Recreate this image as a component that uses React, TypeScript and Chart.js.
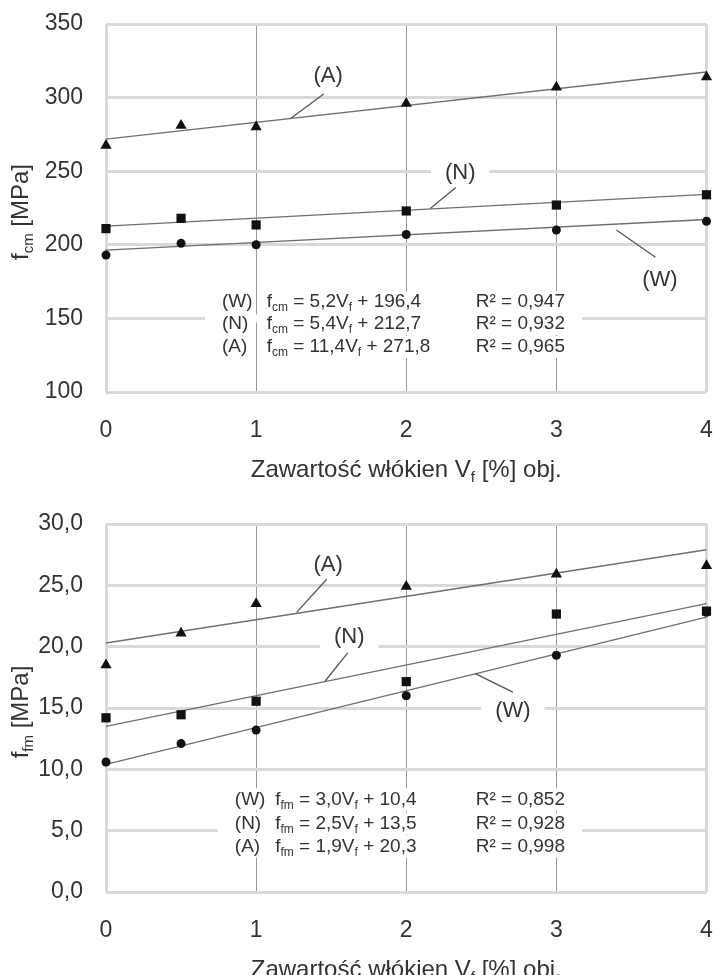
import React, { useEffect, useRef } from 'react';
import { Chart, registerables } from 'chart.js';

Chart.register(...registerables);

// ---------- data ----------
const vfValues = [0, 0.5, 1, 2, 3, 4];
const fitX = [0, 4];
const xTicks = [0, 1, 2, 3, 4];

// top panel: f_cm [MPa]
const fcmW = [193, 201, 200, 207, 210, 216];
const fcmN = [211, 218, 213.5, 223, 227, 234];
const fcmA = [267.5, 281, 280, 296, 307, 314];
const fcmFitW = [196.4, 217.2];
const fcmFitN = [212.7, 234.3];
const fcmFitA = [271.8, 317.4];
const fcmSlopes = ['5,2', '5,4', '11,4'];
const fcmIntercepts = ['196,4', '212,7', '271,8'];
const fcmR2 = ['0,947', '0,932', '0,965'];

// bottom panel: f_fm [MPa]
const ffmW = [10.6, 12.1, 13.2, 16.0, 19.3, 22.8];
const ffmN = [14.2, 14.45, 15.55, 17.15, 22.66, 22.9];
const ffmA = [18.5, 21.1, 23.5, 24.9, 25.9, 26.6];
const ffmFitW = [10.4, 22.4];
const ffmFitN = [13.5, 23.5];
const ffmFitA = [20.3, 27.9];
const ffmSlopes = ['3,0', '2,5', '1,9'];
const ffmIntercepts = ['10,4', '13,5', '20,3'];
const ffmR2 = ['0,852', '0,928', '0,998'];

const seriesNames = ['(W)', '(N)', '(A)'];
const xTitleMain = 'Zawartość włókien V';
const xTitleSub = 'f';
const xTitleEnd = ' [%] obj.';

// ---------- styles ----------
const FONT = "'Liberation Sans', Arial, Helvetica, sans-serif";
const TEXT = '#333333';
const GRID_LIGHT = '#d9d9d9';
const GRID_DARK = '#9a9a9a';
const FIT_COLOR = '#6f6f6f';
const MARK = '#111111';

type Part = { t: string; sub?: boolean };

function partsWidth(ctx: CanvasRenderingContext2D, parts: Part[], size: number) {
  let w = 0;
  for (const p of parts) {
    ctx.font = `${p.sub ? Math.round(size * 0.62) : size}px ${FONT}`;
    w += ctx.measureText(p.t).width;
  }
  return w;
}

function drawParts(
  ctx: CanvasRenderingContext2D,
  parts: Part[],
  x: number,
  y: number,
  size: number,
  align: 'left' | 'center'
) {
  const w = partsWidth(ctx, parts, size);
  let cx = align === 'center' ? x - w / 2 : x;
  ctx.textAlign = 'left';
  ctx.textBaseline = 'middle';
  for (const p of parts) {
    const s = p.sub ? Math.round(size * 0.62) : size;
    ctx.font = `${s}px ${FONT}`;
    ctx.fillText(p.t, cx, p.sub ? y + size * 0.32 : y);
    cx += ctx.measureText(p.t).width;
  }
  return w;
}

interface LabelCfg {
  name: string;
  x: number;
  y: number;
  from: [number, number];
  to: [number, number];
}

interface PanelCfg {
  yMin: number;
  yMax: number;
  yStep: number;
  decimals: number;
  w: number[];
  n: number[];
  a: number[];
  fitW: number[];
  fitN: number[];
  fitA: number[];
  sym: string;
  slopes: string[];
  intercepts: string[];
  r2: string[];
  labels: LabelCfg[];
  eqCols: [number, number, number];
  eqRows: number[];
  eqGapValue: number;
}

const topPanel: PanelCfg = {
  yMin: 100,
  yMax: 350,
  yStep: 50,
  decimals: 0,
  w: fcmW,
  n: fcmN,
  a: fcmA,
  fitW: fcmFitW,
  fitN: fcmFitN,
  fitA: fcmFitA,
  sym: 'cm',
  slopes: fcmSlopes,
  intercepts: fcmIntercepts,
  r2: fcmR2,
  labels: [
    { name: '(A)', x: 1.48, y: 314.7, from: [1.45, 302.5], to: [1.23, 285.8] },
    { name: '(N)', x: 2.36, y: 248.5, from: [2.33, 239], to: [2.16, 224.6] },
    { name: '(W)', x: 3.69, y: 176, from: [3.66, 191.5], to: [3.4, 210] },
  ],
  eqCols: [0.772, 1.07, 2.463],
  eqRows: [161.1, 146.2, 130.6],
  eqGapValue: 150,
};

const bottomPanel: PanelCfg = {
  yMin: 0,
  yMax: 30,
  yStep: 5,
  decimals: 1,
  w: ffmW,
  n: ffmN,
  a: ffmA,
  fitW: ffmFitW,
  fitN: ffmFitN,
  fitA: ffmFitA,
  sym: 'fm',
  slopes: ffmSlopes,
  intercepts: ffmIntercepts,
  r2: ffmR2,
  labels: [
    { name: '(A)', x: 1.48, y: 26.7, from: [1.47, 25.5], to: [1.27, 22.8] },
    { name: '(N)', x: 1.62, y: 20.8, from: [1.61, 19.5], to: [1.46, 17.2] },
    { name: '(W)', x: 2.71, y: 14.8, from: [2.71, 16.3], to: [2.46, 17.8] },
  ],
  eqCols: [0.858, 1.127, 2.463],
  eqRows: [7.55, 5.6, 3.7],
  eqGapValue: 5,
};

function Panel({ cfg }: { cfg: PanelCfg }) {
  const ref = useRef<HTMLCanvasElement | null>(null);

  useEffect(() => {
    if (!ref.current) return;
    const fmt = (v: number) => v.toFixed(cfg.decimals).replace('.', ',');

    const annot = {
      id: 'annot',
      afterDraw(chart: any) {
        const ctx: CanvasRenderingContext2D = chart.ctx;
        const xs = chart.scales.x;
        const ys = chart.scales.y;
        const area = chart.chartArea;
        ctx.save();
        ctx.fillStyle = TEXT;

        // axis titles
        drawParts(
          ctx,
          [{ t: xTitleMain }, { t: xTitleSub, sub: true }, { t: xTitleEnd }],
          (area.left + area.right) / 2,
          area.bottom + 78,
          24,
          'center'
        );
        ctx.save();
        ctx.translate(21, (area.top + area.bottom) / 2 + 4);
        ctx.rotate(-Math.PI / 2);
        drawParts(ctx, [{ t: 'f' }, { t: cfg.sym, sub: true }, { t: ' [MPa]' }], 0, 0, 24, 'center');
        ctx.restore();

        // equations block
        const eqSize = 19;
        const colPx = cfg.eqCols.map((c) => xs.getPixelForValue(c));
        const rows = cfg.eqRows.map((r) => ys.getPixelForValue(r));
        let rightMost = colPx[2];
        ctx.font = `${eqSize}px ${FONT}`;
        cfg.r2.forEach((r) => {
          rightMost = Math.max(rightMost, colPx[2] + ctx.measureText('R² = ' + r).width);
        });
        const gapY = ys.getPixelForValue(cfg.eqGapValue);
        ctx.fillStyle = '#ffffff';
        ctx.fillRect(colPx[0] - 17, gapY - 4, rightMost + 17 - (colPx[0] - 17), 8);

        rows.forEach((y, i) => {
          const formula: Part[] = [
            { t: 'f' },
            { t: cfg.sym, sub: true },
            { t: ' = ' + cfg.slopes[i] + 'V' },
            { t: 'f', sub: true },
            { t: ' + ' + cfg.intercepts[i] },
          ];
          const fw = partsWidth(ctx, formula, eqSize);
          ctx.font = `${eqSize}px ${FONT}`;
          const lw = ctx.measureText(seriesNames[i]).width;
          const rw = ctx.measureText('R² = ' + cfg.r2[i]).width;
          ctx.fillStyle = '#ffffff';
          ctx.fillRect(colPx[0] - 2, y - 11, lw + 4, 22);
          ctx.fillRect(colPx[1] - 2, y - 11, fw + 4, 22);
          ctx.fillRect(colPx[2] - 2, y - 11, rw + 4, 22);
          ctx.fillStyle = TEXT;
          drawParts(ctx, [{ t: seriesNames[i] }], colPx[0], y, eqSize, 'left');
          drawParts(ctx, formula, colPx[1], y, eqSize, 'left');
          drawParts(ctx, [{ t: 'R² = ' + cfg.r2[i] }], colPx[2], y, eqSize, 'left');
        });

        // series labels with leader lines
        const labSize = 22;
        cfg.labels.forEach((l) => {
          const px = xs.getPixelForValue(l.x);
          const py = ys.getPixelForValue(l.y);
          ctx.font = `${labSize}px ${FONT}`;
          const w = ctx.measureText(l.name).width;
          ctx.fillStyle = '#ffffff';
          ctx.fillRect(px - w / 2 - 14, py - 12, w + 28, 24);
          ctx.fillStyle = TEXT;
          drawParts(ctx, [{ t: l.name }], px, py, labSize, 'center');
          ctx.strokeStyle = '#555555';
          ctx.lineWidth = 1.3;
          ctx.beginPath();
          ctx.moveTo(xs.getPixelForValue(l.from[0]), ys.getPixelForValue(l.from[1]));
          ctx.lineTo(xs.getPixelForValue(l.to[0]), ys.getPixelForValue(l.to[1]));
          ctx.stroke();
        });
        ctx.restore();
      },
    };

    const pts = (vals: number[]) => vfValues.map((x, i) => ({ x, y: vals[i] }));
    const fit = (vals: number[]) => fitX.map((x, i) => ({ x, y: vals[i] }));

    const markerDs = (vals: number[], style: string, radius: number) => ({
      data: pts(vals),
      showLine: false,
      pointStyle: style,
      pointRadius: radius,
      pointBackgroundColor: MARK,
      pointBorderColor: MARK,
      pointBorderWidth: 0,
      order: 1,
    });
    const fitDs = (vals: number[]) => ({
      data: fit(vals),
      showLine: true,
      pointRadius: 0,
      borderColor: FIT_COLOR,
      borderWidth: 1.3,
      fill: false,
      order: 2,
    });

    const zeroPad = (s: any) => {
      s.paddingTop = 0;
      s.paddingBottom = 0;
      s.paddingLeft = 0;
      s.paddingRight = 0;
    };

    const chart = new Chart(ref.current, {
      type: 'scatter',
      data: {
        datasets: [
          fitDs(cfg.fitW),
          fitDs(cfg.fitN),
          fitDs(cfg.fitA),
          markerDs(cfg.w, 'circle', 4.5),
          markerDs(cfg.n, 'rect', 6.5),
          markerDs(cfg.a, 'triangle', 6.5),
        ] as any,
      },
      options: {
        responsive: false,
        animation: false,
        events: [],
        clip: false,
        layout: { padding: { top: 24, right: 6, left: 0, bottom: 0 } },
        plugins: { legend: { display: false }, tooltip: { enabled: false } },
        scales: {
          x: {
            type: 'linear',
            min: 0,
            max: 4,
            afterBuildTicks: (s: any) => {
              s.ticks = xTicks.map((v) => ({ value: v }));
            },
            ticks: {
              padding: 25,
              color: TEXT,
              font: { family: FONT, size: 23 },
              maxRotation: 0,
              callback: (v: any) => String(v),
            },
            grid: {
              drawTicks: false,
              color: (c: any) => (c.tick && (c.tick.value === 0 || c.tick.value === 4) ? GRID_LIGHT : GRID_DARK),
              lineWidth: (c: any) => (c.tick && (c.tick.value === 0 || c.tick.value === 4) ? 3 : 1),
            },
            border: { display: false },
            afterFit: (s: any) => {
              s.height = 108;
              zeroPad(s);
            },
          },
          y: {
            type: 'linear',
            min: cfg.yMin,
            max: cfg.yMax,
            ticks: {
              stepSize: cfg.yStep,
              padding: 23,
              color: TEXT,
              font: { family: FONT, size: 23 },
              callback: (v: any) => fmt(Number(v)),
            },
            grid: { drawTicks: false, color: GRID_LIGHT, lineWidth: 3 },
            border: { display: false },
            afterFit: (s: any) => {
              s.width = 106;
              zeroPad(s);
            },
          },
        },
      } as any,
      plugins: [annot],
    });
    return () => chart.destroy();
  }, [cfg]);

  return <canvas ref={ref} width={713} height={500} style={{ display: 'block', width: 713, height: 500 }} />;
}

export default function App() {
  return (
    <div
      style={{
        position: 'absolute',
        left: 0,
        top: 0,
        width: 713,
        height: 975,
        overflow: 'hidden',
        background: '#ffffff',
      }}
    >
      <Panel cfg={topPanel} />
      <Panel cfg={bottomPanel} />
    </div>
  );
}
